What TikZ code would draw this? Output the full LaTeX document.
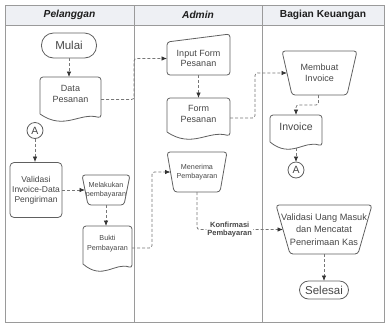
\documentclass[tikz,border=0pt]{standalone}
\usepackage{fontspec}
\setmainfont{Liberation Sans}
\usetikzlibrary{arrows.meta}
\definecolor{framecol}{HTML}{9A9A9A}
\definecolor{headfill}{HTML}{EEF0F4}
\definecolor{shapecol}{HTML}{606060}
\definecolor{textcol}{HTML}{464646}
\definecolor{headtext}{HTML}{1E1E1E}
\definecolor{conncol}{HTML}{777777}
\definecolor{tipcol}{HTML}{333333}
\newcommand\fs[2]{\fontsize{#1}{#2}\selectfont}
% document shape: name, x1, y1, x2, y2, font, text
\newcommand\docshape[7]{%
  \node[box, minimum width={(#4-#2)*1pt}, minimum height={(#5-#3)*1pt},
    label={[lbl,font=#6,yshift=4.5pt]center:#7}] (#1) at ({(#2+#4)/2},{(#3+#5)/2}) {};
  \draw[shp] ({#2},{#5-6}) -- ({#2},{#3}) -- ({#4},{#3}) -- ({#4},{#5-2})
    .. controls ({#2+0.65*(#4-#2)},{#5-8}) and ({#2+0.4*(#4-#2)},{#5+11}) .. ({#2},{#5-6});
}
% manual operation outline around node #1, bottom inset #2
\newcommand\trapdraw[2]{%
  \draw[shp] (#1.north west) -- (#1.north east) -- ([xshift=-#2]#1.south east)
    -- ([xshift=#2]#1.south west) -- cycle;
}
\begin{document}
\begin{tikzpicture}[x=1pt,y=-1pt,
  box/.style={draw=none, inner sep=0pt, outer sep=0pt},
  lbl/.style={text=textcol, align=center, inner sep=0pt},
  shp/.style={draw=shapecol, line width=0.8pt, rounded corners=3pt, line cap=round, line join=round},
  term/.style={draw=shapecol, line width=0.8pt, text=textcol, inner sep=0pt, outer sep=0pt, font=\fs{11.5}{13}},
  conn/.style={draw=conncol, line width=0.75pt, dash pattern=on 3pt off 2pt, rounded corners=2.5pt,
    -{Latex[length=5.5pt,width=4.5pt,color=tipcol]}},
  head/.style={text=headtext, font=\fs{10.2}{12}\bfseries},
  fr/.style={draw=framecol, line width=0.8pt},
]
\useasboundingbox (0,0) rectangle (388,325);
% frame
\fill[headfill] (5,5) rectangle (384,25);
\draw[fr] (5,5) rectangle (384,322);
\draw[fr] (5,25) -- (384,25);
\draw[fr] (134,5) -- (134,322);
\draw[fr] (262,5) -- (262,322);
\node[head] (h1) at (69.5,15) {\itshape Pelanggan};
\node[head] (h2) at (198,15) {\itshape Admin};
\node[head] (h3) at (323,15) {Bagian Keuangan};

% Pelanggan
\node[term, rounded corners=12pt, minimum width=55pt, minimum height=25pt] (mulai) at (69,45.5) {Mulai};
\docshape{dp}{40}{77}{101}{120}{\fs{9}{11.5}}{Data\\Pesanan}
\node[term, circle, minimum size=16pt, font=\fs{10.5}{12}] (a1) at (35,130.5) {A};
\node[draw=shapecol, line width=0.8pt, rounded corners=4pt, minimum width=52pt, minimum height=55pt,
  inner sep=0pt, text=textcol, align=center, font=\fs{8.5}{9.8}] (val) at (36,190) {Validasi\\Invoice-Data\\Pengiriman};
\node[box, minimum width=48pt, minimum height=30pt, lbl, font=\fs{7.2}{9.5}] (mel) at (106,190) {Melakukan\\pembayaran};
\trapdraw{mel}{6pt}
\docshape{bukti}{83}{226}{132}{270}{\fs{7.2}{9.5}}{Bukti\\Pembayaran}

% Admin
\node[box, minimum width=63pt, minimum height=33pt, lbl, font=\fs{9}{10.5}] (ifp) at (198.5,58.5) {Input Form\\Pesanan};
\draw[shp] (ifp.south west) -- (ifp.north west) -- ([yshift=8pt]ifp.north east) -- (ifp.south east) -- cycle;
\docshape{fp}{167}{98}{230}{138}{\fs{9}{11}}{Form\\Pesanan}
\node[box, minimum width=60pt, minimum height=40pt, lbl, font=\fs{7.2}{9.5}] (men) at (197,172) {Menerima\\Pembayaran};
\trapdraw{men}{7pt}

% Bagian Keuangan
\node[box, minimum width=75pt, minimum height=44pt, lbl, font=\fs{9}{11}] (mi) at (319.5,73) {Membuat\\Invoice};
\trapdraw{mi}{10pt}
\docshape{inv}{270}{115}{322}{148}{\fs{10.5}{12}}{Invoice}
\node[term, circle, minimum size=16pt, font=\fs{10.5}{12}] (a2) at (296,170) {A};
\node[box, minimum width=96pt, minimum height=49pt, lbl, font=\fs{9.2}{12.5}] (vum) at (324,229.5) {Validasi Uang Masuk\\dan Mencatat\\Penerimaan Kas};
\trapdraw{vum}{14pt}
\node[term, rounded corners=9pt, minimum width=49pt, minimum height=18pt] (selesai) at (324,290) {Selesai};

% connectors
\draw[conn] (mulai.south) -- (mulai.south |- dp.north);
\draw[conn] ([yshift=-1pt]dp.east) -- ++(33,0) |- (ifp.west);
\draw[conn] (fp.east) -- ++(25,0) |- ([xshift=5pt]mi.west);
\draw[conn] (ifp.south) -- (fp.north);
\draw[conn] ([xshift=-1pt]mi.south) -- ++(0,10) -| (inv.north);
\draw[conn] (inv.south) -- (a2.north);
\draw[conn] (a1.south) -- (a1.south |- val.north);
\draw[conn] (val.east) -- ([xshift=3pt]mel.west);
\draw[conn] (mel.south) -- (mel.south |- bukti.north);
\draw[conn] (bukti.east) -- ++(20,0) |- ([xshift=3.5pt]men.west);
\draw[conn] (men.south) |- node[pos=0.69, fill=white, lbl, inner sep=1pt, font=\fs{7.5}{8.5}\bfseries] (konf) {Konfirmasi\\Pembayaran} ([xshift=7pt]vum.west);
\draw[conn] (vum.south) -- (selesai.north);
\end{tikzpicture}
\end{document}
